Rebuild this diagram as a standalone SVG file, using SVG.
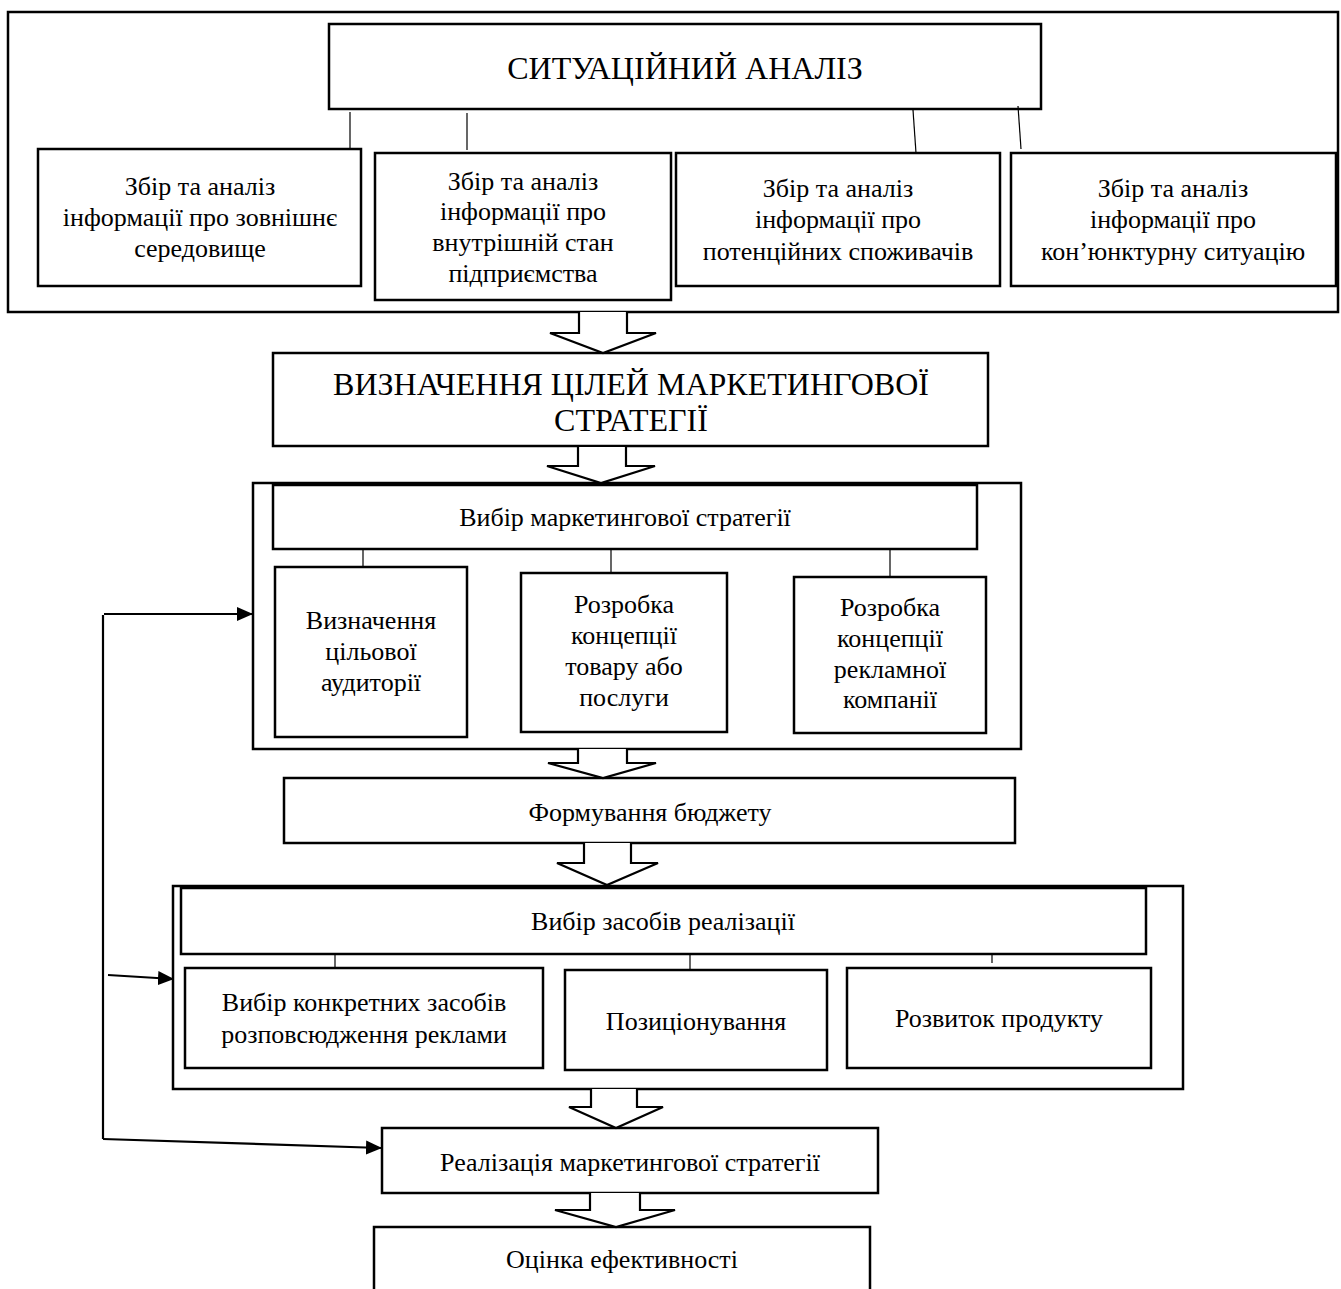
<svg xmlns="http://www.w3.org/2000/svg" width="1341" height="1289" viewBox="0 0 1341 1289">
<style>
.b{fill:#fff;stroke:#000;stroke-width:2.5}
.g{fill:none;stroke:#000;stroke-width:2.5}
.t{font-family:"Liberation Serif","Times New Roman",serif;font-size:26px;fill:#000;text-anchor:middle}
.h{font-size:32px}
.c{stroke:#000;stroke-width:1.2;fill:none}
.ba{fill:#fff;stroke:#000;stroke-width:2.2;stroke-linejoin:miter}
.f{stroke:#000;stroke-width:2.2;fill:none}
</style>
<defs>
<marker id="ah" markerUnits="userSpaceOnUse" markerWidth="16" markerHeight="16" viewBox="0 0 16 16" refX="15" refY="8" orient="auto">
<path d="M0,1 L16,8 L0,15 Z" fill="#000"/>
</marker>
</defs>
<rect width="1341" height="1289" fill="#fff"/>

<g id="situational-group">
<rect class="g" x="8" y="12" width="1330" height="300"/>
</g>
<g id="situational">
<rect class="b" x="329" y="24" width="712" height="85"/>
<text class="t h" x="685" y="79">СИТУАЦІЙНИЙ АНАЛІЗ</text>
</g>
<g id="external">
<rect class="b" x="38" y="149" width="323" height="137"/>
<text class="t" x="200" y="195">Збір та аналіз</text>
<text class="t" x="200" y="226">інформації про зовнішнє</text>
<text class="t" x="200" y="257">середовище</text>
</g>
<g id="internal">
<rect class="b" x="375" y="153" width="296" height="147"/>
<text class="t" x="523" y="190">Збір та аналіз</text>
<text class="t" x="523" y="220">інформації про</text>
<text class="t" x="523" y="251">внутрішній стан</text>
<text class="t" x="523" y="282">підприємства</text>
</g>
<g id="consumers">
<rect class="b" x="676" y="153" width="324" height="133"/>
<text class="t" x="838" y="197">Збір та аналіз</text>
<text class="t" x="838" y="228">інформації про</text>
<text class="t" x="838" y="260">потенційних споживачів</text>
</g>
<g id="conjuncture">
<rect class="b" x="1011" y="153" width="325" height="133"/>
<text class="t" x="1173" y="197">Збір та аналіз</text>
<text class="t" x="1173" y="228">інформації про</text>
<text class="t" x="1173" y="260">кон’юнктурну ситуацію</text>
</g>

<g id="goals">
<rect class="b" x="273" y="353" width="715" height="93"/>
<text class="t h" x="631" y="395">ВИЗНАЧЕННЯ ЦІЛЕЙ МАРКЕТИНГОВОЇ</text>
<text class="t h" x="631" y="431">СТРАТЕГІЇ</text>
</g>

<g id="strategy-group">
<rect class="g" x="253" y="483" width="768" height="266"/>
</g>
<g id="strategy">
<rect class="b" x="273" y="485" width="704" height="64"/>
<text class="t" x="625" y="526">Вибір маркетингової стратегії</text>
</g>
<g id="audience">
<rect class="b" x="275" y="567" width="192" height="170"/>
<text class="t" x="371" y="629">Визначення</text>
<text class="t" x="371" y="660">цільової</text>
<text class="t" x="371" y="691">аудиторії</text>
</g>
<g id="product-concept">
<rect class="b" x="521" y="573" width="206" height="159"/>
<text class="t" x="624" y="613">Розробка</text>
<text class="t" x="624" y="644">концепції</text>
<text class="t" x="624" y="675">товару або</text>
<text class="t" x="624" y="706">послуги</text>
</g>
<g id="ad-concept">
<rect class="b" x="794" y="577" width="192" height="156"/>
<text class="t" x="890" y="616">Розробка</text>
<text class="t" x="890" y="647">концепції</text>
<text class="t" x="890" y="678">рекламної</text>
<text class="t" x="890" y="708">компанії</text>
</g>

<g id="budget">
<rect class="b" x="284" y="778" width="731" height="65"/>
<text class="t" x="650" y="821">Формування бюджету</text>
</g>

<g id="means-group">
<rect class="g" x="173" y="886" width="1010" height="203"/>
</g>
<g id="means">
<rect class="b" x="181" y="888" width="965" height="66"/>
<text class="t" x="663" y="930">Вибір засобів реалізації</text>
</g>
<g id="channels">
<rect class="b" x="185" y="968" width="358" height="100"/>
<text class="t" x="364" y="1011">Вибір конкретних засобів</text>
<text class="t" x="364" y="1043">розповсюдження реклами</text>
</g>
<g id="positioning">
<rect class="b" x="565" y="970" width="262" height="100"/>
<text class="t" x="696" y="1030">Позиціонування</text>
</g>
<g id="product-dev">
<rect class="b" x="847" y="968" width="304" height="100"/>
<text class="t" x="999" y="1027">Розвиток продукту</text>
</g>

<g id="implementation">
<rect class="b" x="382" y="1128" width="496" height="65"/>
<text class="t" x="630" y="1171">Реалізація маркетингової стратегії</text>
</g>

<g id="evaluation">
<path class="g" d="M374,1292 V1227 H870 V1292"/>
<text class="t" x="622" y="1268">Оцінка ефективності</text>
</g>

<g id="connectors">
<line class="c" x1="350" y1="112" x2="350" y2="149"/>
<line class="c" x1="467" y1="113" x2="467" y2="150"/>
<line class="c" x1="913" y1="110" x2="916" y2="153"/>
<line class="c" x1="1018" y1="106" x2="1021" y2="149"/>

<line class="c" x1="363" y1="549" x2="363" y2="567"/>
<line class="c" x1="611" y1="549" x2="611" y2="573"/>
<line class="c" x1="890" y1="549" x2="890" y2="576"/>

<line class="c" x1="335" y1="954" x2="335" y2="968"/>
<line class="c" x1="690" y1="954" x2="690" y2="970"/>
<line class="c" x1="992" y1="954" x2="992" y2="963"/>

<path class="ba" d="M579,312 V333 H550 L603,353 L656,333 H627 V312"/>
<path class="ba" d="M578,447 V466 H547 L601,483 L655,466 H626 V447"/>
<path class="ba" d="M578,749 V763 H548 L603,778 L656,763 H627 V749"/>
<path class="ba" d="M584,843 V863 H557 L607,885 L658,863 H631 V843"/>
<path class="ba" d="M591,1089 V1107 H569 L616,1128 L663,1107 H637 V1089"/>
<path class="ba" d="M590,1193 V1210 H555 L616,1227 L675,1210 H640 V1193"/>

<line class="f" x1="103" y1="615" x2="103" y2="1139" stroke-width="1.6"/>
<line class="f" x1="104" y1="614" x2="252" y2="614" marker-end="url(#ah)"/>
<line class="f" x1="108" y1="975" x2="173" y2="979" marker-end="url(#ah)"/>
<line class="f" x1="103" y1="1139" x2="381" y2="1148" marker-end="url(#ah)"/>
</g>
</svg>
